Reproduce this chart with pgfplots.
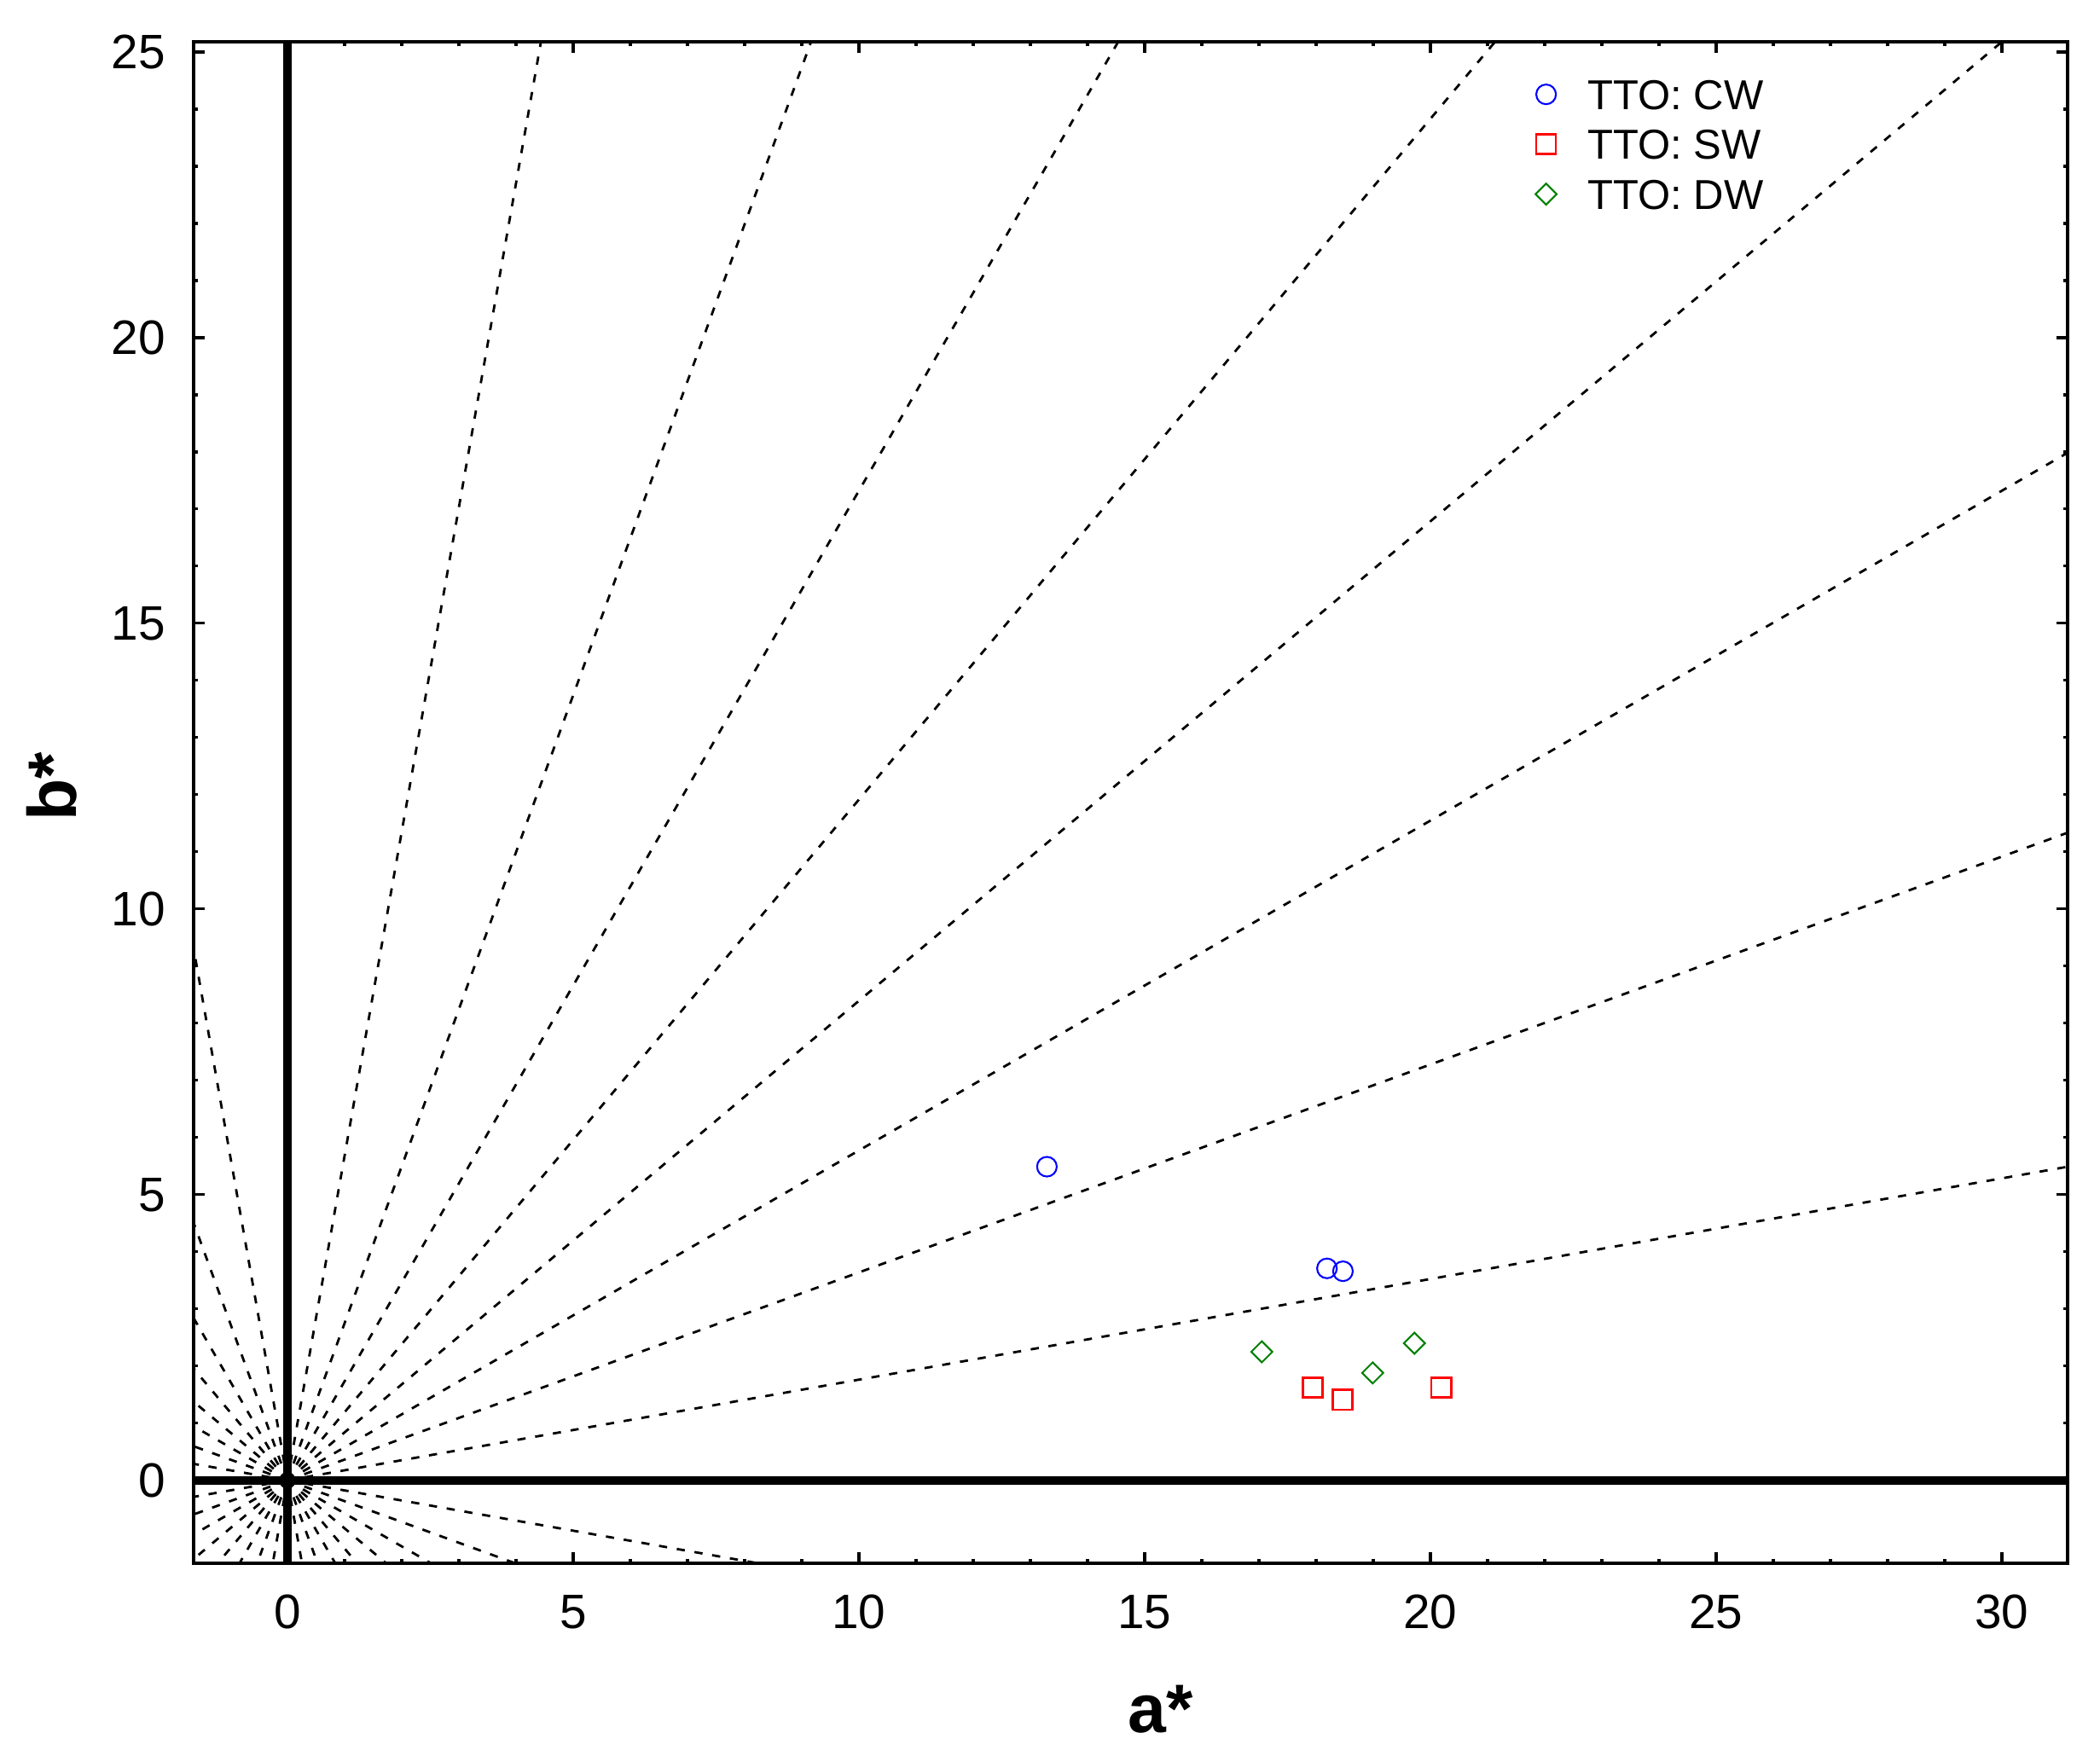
\documentclass[border=0pt]{standalone}
\usepackage{pgfplots}
\pgfplotsset{compat=1.18}
\usepackage{fontspec}
\setmainfont{Liberation Sans}
\usetikzlibrary{calc}
\begin{document}
\begin{tikzpicture}
\useasboundingbox (-32.43pt,-32.29pt) rectangle (319.29pt,261.86pt);
\begin{axis}[
  at={(0,0)}, anchor=south west,
  scale only axis, width=313.86pt, height=254.86pt,
  xmin=-1.64, xmax=31.15, ymin=-1.45, ymax=25.18,
  xtick={0,5,...,30}, ytick={0,5,...,25},
  minor tick num=4,
  tick align=inside,
  major tick length=1.85pt, minor tick length=0.75pt,
  every tick/.style={black, line width=0.45pt},
  axis line style={line width=0.55pt},
  /pgf/number format/assume math mode=true,
  tick label style={font=\fontsize{8.1}{9}\selectfont},
  xticklabel style={anchor=base, yshift=-10.9pt},
  yticklabel style={anchor=east, xshift=-1.2pt},
  xlabel={a*}, ylabel={b*},
  label style={font=\fontsize{11.5}{13}\selectfont\bfseries},
  xlabel style={at={($(axis description cs:0.5,0)+(5pt,-28.4pt)$)}, anchor=base},
  ylabel style={at={($(axis description cs:0,0.5)+(-19.7pt,2.7pt)$)}, anchor=base},
  legend style={draw=none, fill=none, at={(axis cs:21.84,24.52)}, anchor=north west,
    inner sep=0pt, outer sep=0pt, row sep=3.36pt, column sep=0pt,
    nodes={inner xsep=5.2pt, inner ysep=0pt, text height=5pt, text depth=0pt},
    font=\fontsize{7}{8}\selectfont},
  legend cell align=left,
  legend image code/.code={\draw[#1] plot coordinates {(0pt,0pt)};},
  hue/.style={black, line width=0.4pt, dash pattern=on 1.37pt off 1.64pt, forget plot},
]
% hue angle lines every 10 degrees
\addplot[hue] coordinates {(0,0) (44.32,7.81)};
\addplot[hue] coordinates {(0,0) (42.29,15.39)};
\addplot[hue] coordinates {(0,0) (38.97,22.50)};
\addplot[hue] coordinates {(0,0) (34.47,28.93)};
\addplot[hue] coordinates {(0,0) (28.93,34.47)};
\addplot[hue] coordinates {(0,0) (22.50,38.97)};
\addplot[hue] coordinates {(0,0) (15.39,42.29)};
\addplot[hue] coordinates {(0,0) (7.81,44.32)};
\addplot[hue] coordinates {(0,0) (-7.81,44.32)};
\addplot[hue] coordinates {(0,0) (-15.39,42.29)};
\addplot[hue] coordinates {(0,0) (-22.50,38.97)};
\addplot[hue] coordinates {(0,0) (-28.93,34.47)};
\addplot[hue] coordinates {(0,0) (-34.47,28.93)};
\addplot[hue] coordinates {(0,0) (-38.97,22.50)};
\addplot[hue] coordinates {(0,0) (-42.29,15.39)};
\addplot[hue] coordinates {(0,0) (-44.32,7.81)};
\addplot[hue] coordinates {(0,0) (-44.32,-7.81)};
\addplot[hue] coordinates {(0,0) (-42.29,-15.39)};
\addplot[hue] coordinates {(0,0) (-38.97,-22.50)};
\addplot[hue] coordinates {(0,0) (-34.47,-28.93)};
\addplot[hue] coordinates {(0,0) (-28.93,-34.47)};
\addplot[hue] coordinates {(0,0) (-22.50,-38.97)};
\addplot[hue] coordinates {(0,0) (-15.39,-42.29)};
\addplot[hue] coordinates {(0,0) (-7.81,-44.32)};
\addplot[hue] coordinates {(0,0) (7.81,-44.32)};
\addplot[hue] coordinates {(0,0) (15.39,-42.29)};
\addplot[hue] coordinates {(0,0) (22.50,-38.97)};
\addplot[hue] coordinates {(0,0) (28.93,-34.47)};
\addplot[hue] coordinates {(0,0) (34.47,-28.93)};
\addplot[hue] coordinates {(0,0) (38.97,-22.50)};
\addplot[hue] coordinates {(0,0) (42.29,-15.39)};
\addplot[hue] coordinates {(0,0) (44.32,-7.81)};
% thick zero axes
\addplot[black, line width=1.4pt, forget plot] coordinates {(-5,0) (40,0)};
\addplot[black, line width=1.4pt, forget plot] coordinates {(0,-5) (0,30)};
% data
\addplot[only marks, mark=o, blue, mark size=1.65pt, line width=0.3pt]
  coordinates {(13.29,5.49) (18.19,3.71) (18.47,3.66)};
\addlegendentry{TTO: CW}
\addplot[only marks, mark=square, red, mark size=1.65pt, line width=0.38pt]
  coordinates {(17.94,1.62) (18.46,1.41) (20.19,1.62)};
\addlegendentry{TTO: SW}
\addplot[only marks, mark=square, green!50!black, mark size=1.25pt, line width=0.3pt, mark options={rotate=45}]
  coordinates {(17.05,2.25) (18.99,1.88) (19.72,2.40)};
\addlegendentry{TTO: DW}
\end{axis}
\end{tikzpicture}
\end{document}
